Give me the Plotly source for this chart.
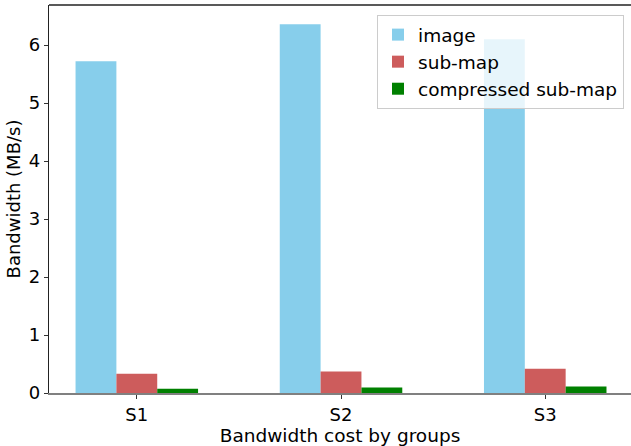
import plotly.graph_objects as go

groups = ["S1", "S2", "S3"]
series_names = ["image", "sub-map", "compressed sub-map"]
image_vals = [5.72, 6.36, 6.10]
submap_vals = [0.33, 0.37, 0.42]
compressed_vals = [0.075, 0.095, 0.11]
colors = ["#87CEEB", "#CD5C5C", "#008000"]
y_ticks = [0, 1, 2, 3, 4, 5, 6]

FONT = "DejaVu Sans"

fig = go.Figure()
for name, vals, col in zip(series_names, [image_vals, submap_vals, compressed_vals], colors):
    fig.add_trace(go.Bar(
        x=groups, y=vals, name=name, marker=dict(color=col, line=dict(width=0)),
        legendgroup=name,
    ))

fig.update_layout(
    width=631, height=446,
    margin=dict(l=49, r=0, t=5, b=53, autoexpand=False),
    paper_bgcolor="white", plot_bgcolor="white",
    barmode="group", bargap=0.4, bargroupgap=0,
    font=dict(family=FONT, size=18, color="#000"),
    showlegend=True,
    legend=dict(
        x=0.988, y=0.974, xanchor="right", yanchor="top",
        bgcolor="rgba(255,255,255,0.8)", bordercolor="#cccccc", borderwidth=1,
        font=dict(family=FONT, size=18.5, color="#000"),
        tracegroupgap=0, itemwidth=30,
    ),
    xaxis=dict(
        range=[-0.43, 2.42], showgrid=False, zeroline=False, automargin=False,
        showline=True, linecolor="#808080", linewidth=2,
        ticks="outside", ticklen=4, tickcolor="#333", tickwidth=1,
        tickfont=dict(size=18),
        title=dict(text="Bandwidth cost by groups", font=dict(size=18.5), standoff=2),
    ),
    yaxis=dict(
        range=[0, 6.69], tickvals=y_ticks, showgrid=False, zeroline=False, automargin=False,
        showline=True, linecolor="#222", linewidth=1.3,
        ticks="outside", ticklen=4, tickcolor="#333", tickwidth=1,
        tickfont=dict(size=18),
        title=dict(text="Bandwidth (MB/s)", font=dict(size=18), standoff=3),
    ),
    shapes=[dict(type="line", xref="paper", yref="paper", x0=0, x1=1, y0=1, y1=1,
                 line=dict(color="#222", width=1.3))],
)

fig.write_html("out.html", config={"displayModeBar": False},
               post_script="document.body.style.margin='0';document.body.style.padding='0';")
